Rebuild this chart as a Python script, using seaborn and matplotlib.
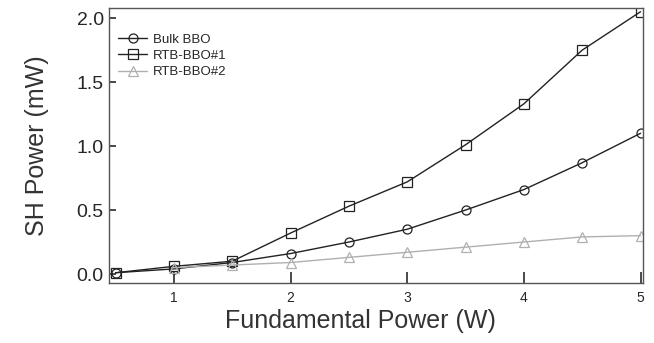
import numpy as np
import pandas as pd
import matplotlib
matplotlib.use("Agg")
import matplotlib.pyplot as plt
import seaborn as sns

x_power = [0.5, 1.0, 1.5, 2.0, 2.5, 3.0, 3.5, 4.0, 4.5, 5.0]
bulk_bbo = [0.01, 0.04, 0.09, 0.16, 0.25, 0.35, 0.50, 0.66, 0.87, 1.10]
rtb_bbo1 = [0.01, 0.06, 0.10, 0.32, 0.53, 0.72, 1.01, 1.33, 1.75, 2.05]
x_power2 = [1.0, 1.5, 2.0, 2.5, 3.0, 3.5, 4.0, 4.5, 5.0]
rtb_bbo2 = [0.05, 0.07, 0.09, 0.13, 0.17, 0.21, 0.25, 0.29, 0.30]
series_names = ["Bulk BBO", "RTB-BBO#1", "RTB-BBO#2"]

df = pd.concat([
    pd.DataFrame({"x": x_power, "y": bulk_bbo, "s": series_names[0]}),
    pd.DataFrame({"x": x_power, "y": rtb_bbo1, "s": series_names[1]}),
    pd.DataFrame({"x": x_power2, "y": rtb_bbo2, "s": series_names[2]}),
])

sns.set_theme(style="ticks")
plt.rcParams["font.family"] = ["Liberation Sans", "DejaVu Sans"]

fig = plt.figure(figsize=(6.54, 3.43), dpi=100)
ax = fig.add_axes([0.167, 0.175, 0.816, 0.802])

palette = {"Bulk BBO": "#222222", "RTB-BBO#1": "#222222", "RTB-BBO#2": "#b0b0b0"}
markers = {"Bulk BBO": "o", "RTB-BBO#1": "s", "RTB-BBO#2": "^"}
sns.lineplot(data=df, x="x", y="y", hue="s", style="s", palette=palette,
             markers=markers, dashes=False, ax=ax, linewidth=1.0,
             markersize=6.5, markerfacecolor="none", markeredgewidth=0.9)
for line in ax.lines:
    line.set_markerfacecolor("none")
    line.set_markeredgecolor(line.get_color())

ax.set_xlim(0.446, 5.02)
ax.set_ylim(-0.07, 2.08)
ax.set_xticks([1, 2, 3, 4, 5])
ax.set_yticks([0.0, 0.5, 1.0, 1.5, 2.0])
ax.set_yticklabels(["0.0", "0.5", "1.0", "1.5", "2.0"])
ax.tick_params(axis="x", direction="in", length=8, labelsize=10, color="#333333", pad=6)
ax.tick_params(axis="y", direction="in", length=5, labelsize=14, color="#333333", pad=4)
for sp in ax.spines.values():
    sp.set_visible(True)
    sp.set_color("#555555")
    sp.set_linewidth(1.0)

ax.set_xlabel("Fundamental Power (W)", fontsize=18, color="#333333")
ax.xaxis.set_label_coords(0.47, -0.095, transform=ax.transAxes)
ax.xaxis.label.set_va("top")
ax.set_ylabel("SH Power (mW)", fontsize=18, color="#333333", labelpad=20)

leg = ax.legend(loc="upper left", bbox_to_anchor=(0.0, 0.94), frameon=False,
                fontsize=9.5, handlelength=2.2, handletextpad=0.4, labelspacing=0.3,
                borderaxespad=0.3)
for h in leg.legend_handles:
    h.set_markerfacecolor("none")

fig.savefig("out.png", dpi=100)
